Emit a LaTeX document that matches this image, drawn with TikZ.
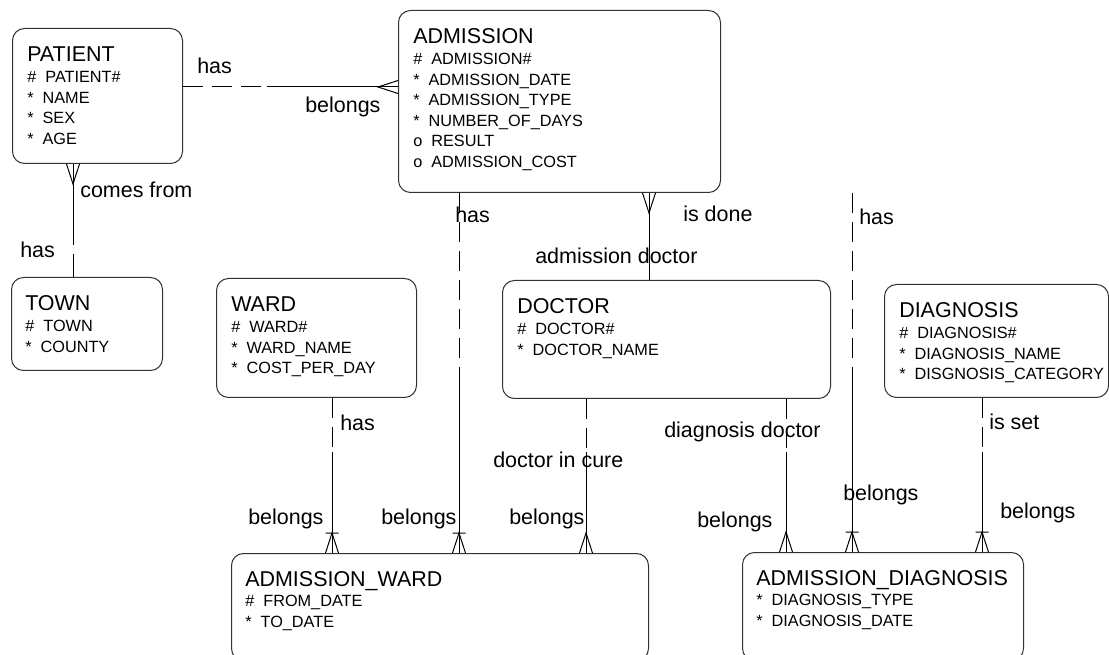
\documentclass[tikz,border=0pt]{standalone}
\usepackage{fontspec}
\setmainfont{Liberation Sans}
\usepackage{tikz}

\newcommand{\enttitle}[1]{{\fontsize{16.1}{19}\selectfont #1}}

\begin{document}
\begin{tikzpicture}[x=0.75pt,y=-0.75pt]
\tikzstyle{entity} = [draw=black!80,rounded corners=9pt,line width=0.75pt,
anchor=north west,inner sep=0pt]
\tikzstyle{attrs} = [anchor=base west,inner sep=0pt,font=\fontsize{12.2}{15.4}\selectfont]
\tikzstyle{rel} = [anchor=base west,inner sep=0pt,font=\fontsize{16.1}{19}\selectfont]
\tikzstyle{must} = [line width=0.75pt]
\tikzstyle{opt} = [line width=0.75pt,dash pattern=on 15pt off 6.75pt]
\tikzset{
  crowfoot/.pic={\draw[must] (-6.5,0) -- (0,20) -- (6.5,0);},
  crowbar/.pic={\draw[must] (-6.5,0) -- (0,20) -- (6.5,0) (-6.5,20) -- (6.5,20);}
}
\useasboundingbox (0,0) rectangle (1109,655);

% entities
\node[entity,minimum width=127.5pt,minimum height=101.25pt] (patient) at (12,28) {};
\node[entity,minimum width=241.5pt,minimum height=136.5pt] (admission) at (398,10) {};
\node[entity,minimum width=113.25pt,minimum height=69.75pt] (town) at (11,277) {};
\node[entity,minimum width=150pt,minimum height=89.25pt] (ward) at (216,278) {};
\node[entity,minimum width=246pt,minimum height=88.5pt] (doctor) at (502,280) {};
\node[entity,minimum width=168pt,minimum height=84.75pt] (diagnosis) at (884,284) {};
\node[entity,minimum width=312.75pt,minimum height=80.25pt] (admward) at (231,553) {};
\node[entity,minimum width=210.75pt,minimum height=81pt] (admdiag) at (742,552) {};

% attributes
\node[attrs] (patientA) at ([shift={(15,34)}]patient.north west) {\begin{tabular}[t]{@{}l@{}}
\enttitle{PATIENT}\\ \#\ \ PATIENT\#\\ {*}\ \ NAME\\ {*}\ \ SEX\\ {*}\ \ AGE\end{tabular}};
\node[attrs] (admissionA) at ([shift={(15,34)}]admission.north west) {\begin{tabular}[t]{@{}l@{}}
\enttitle{ADMISSION}\\ \#\ \ ADMISSION\#\\ {*}\ \ ADMISSION\_DATE\\ {*}\ \ ADMISSION\_TYPE\\
{*}\ \ NUMBER\_OF\_DAYS\\ o\ \ RESULT\\ o\ \ ADMISSION\_COST\end{tabular}};
\node[attrs] (townA) at ([shift={(14,34)}]town.north west) {\begin{tabular}[t]{@{}l@{}}
\enttitle{TOWN}\\ \#\ \ TOWN\\ {*}\ \ COUNTY\end{tabular}};
\node[attrs] (wardA) at ([shift={(15,34)}]ward.north west) {\begin{tabular}[t]{@{}l@{}}
\enttitle{WARD}\\ \#\ \ WARD\#\\ {*}\ \ WARD\_NAME\\ {*}\ \ COST\_PER\_DAY\end{tabular}};
\node[attrs] (doctorA) at ([shift={(15,34)}]doctor.north west) {\begin{tabular}[t]{@{}l@{}}
\enttitle{DOCTOR}\\ \#\ \ DOCTOR\#\\ {*}\ \ DOCTOR\_NAME\end{tabular}};
\node[attrs] (diagnosisA) at ([shift={(15,34)}]diagnosis.north west) {\begin{tabular}[t]{@{}l@{}}
\enttitle{DIAGNOSIS}\\ \#\ \ DIAGNOSIS\#\\ {*}\ \ DIAGNOSIS\_NAME\\ {*}\ \ DISGNOSIS\_CATEGORY\end{tabular}};
\node[attrs] (admwardA) at ([shift={(14,33)}]admward.north west) {\begin{tabular}[t]{@{}l@{}}
\enttitle{ADMISSION\_WARD}\\ \#\ \ FROM\_DATE\\ {*}\ \ TO\_DATE\end{tabular}};
\node[attrs] (admdiagA) at ([shift={(14,33)}]admdiag.north west) {\begin{tabular}[t]{@{}l@{}}
\enttitle{ADMISSION\_DIAGNOSIS}\\ {*}\ \ DIAGNOSIS\_TYPE\\ {*}\ \ DIAGNOSIS\_DATE\end{tabular}};

% patient - admission
\coordinate (pa) at (267,87);
\draw[opt] (patient.east |- pa) -- (pa);
\draw[must] (pa) -- (admission.west |- pa);
\pic[rotate=-90] at (admission.west |- pa) {crowfoot};
\node[rel] (paHas) at (197,74) {has};
\node[rel] (paBel) at (305,113) {belongs};

% patient - town
\coordinate (pt1) at (73,245);
\coordinate (pt2) at (73,254);
\draw[must] (patient.south -| pt1) -- (pt1);
\draw[must] (pt2) -- (town.north -| pt2);
\pic at (patient.south -| pt1) {crowfoot};
\node[rel] (ptCom) at (80,198) {comes from};
\node[rel] (ptHas) at (20,258) {has};

% admission - doctor
\coordinate (ad) at (649,236);
\draw[must] (admission.south -| ad) -- (doctor.north -| ad);
\pic at (admission.south -| ad) {crowfoot};
\node[rel] (adDone) at (683,222) {is done};
\node[rel] (adDoc) at (535,264) {admission doctor};

% admission - admission_ward
\coordinate (aw) at (459,372);
\draw[opt] (admission.south -| aw) -- (aw);
\draw[must] (aw) -- (admward.north -| aw);
\pic[rotate=180] at (admward.north -| aw) {crowbar};
\node[rel] (awHas) at (455,223) {has};
\node[rel] (awBel) at (381,524) {belongs};

% admission - admission_diagnosis
\coordinate (ag) at (852,372);
\draw[opt] (admission.south -| ag) -- (ag);
\draw[must] (ag) -- (admdiag.north -| ag);
\pic[rotate=180] at (admdiag.north -| ag) {crowbar};
\node[rel] (agHas) at (859,225) {has};
\node[rel] (agBel) at (843,500) {belongs};

% ward - admission_ward
\coordinate (ww) at (332,452);
\draw[opt] (ward.south -| ww) -- (ww);
\draw[must] (ww) -- (admward.north -| ww);
\pic[rotate=180] at (admward.north -| ww) {crowbar};
\node[rel] (wwHas) at (340,431) {has};
\node[rel] (wwBel) at (248,524) {belongs};

% doctor - admission_ward
\coordinate (dw) at (586,452);
\draw[opt] (doctor.south -| dw) -- (dw);
\draw[must] (dw) -- (admward.north -| dw);
\pic[rotate=180] at (admward.north -| dw) {crowfoot};
\node[rel] (dwCure) at (493,467) {doctor in cure};
\node[rel] (dwBel) at (509,524) {belongs};

% doctor - admission_diagnosis
\coordinate (dg) at (786,452);
\draw[opt] (doctor.south -| dg) -- (dg);
\draw[must] (dg) -- (admdiag.north -| dg);
\pic[rotate=180] at (admdiag.north -| dg) {crowfoot};
\node[rel] (dgDoc) at (664,437) {diagnosis doctor};
\node[rel] (dgBel) at (697,527) {belongs};

% diagnosis - admission_diagnosis
\coordinate (gg) at (982,452);
\draw[opt] (diagnosis.south -| gg) -- (gg);
\draw[must] (gg) -- (admdiag.north -| gg);
\pic[rotate=180] at (admdiag.north -| gg) {crowbar};
\node[rel] (ggSet) at (989,430) {is set};
\node[rel] (ggBel) at (1000,518) {belongs};
\end{tikzpicture}
\end{document}
